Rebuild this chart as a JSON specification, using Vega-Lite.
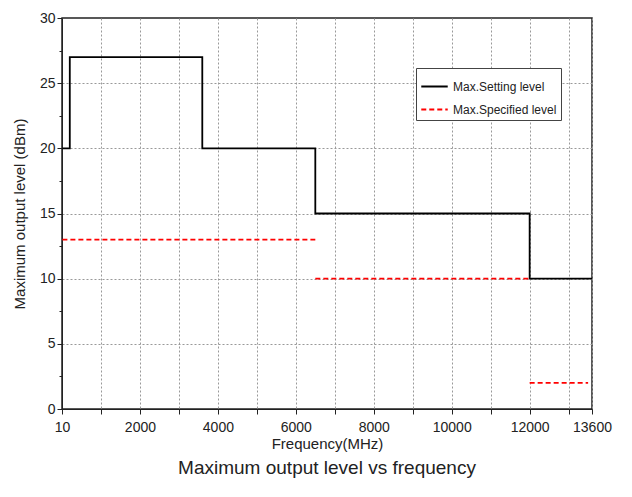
{
"$schema":"https://vega.github.io/schema/vega-lite/v6.json",
"width":530,"height":391,
"autosize":{"type":"none"},
"padding":{"left":62,"top":18,"right":40,"bottom":88},
"background":"white",
"config":{"font":"Liberation Sans","view":{"stroke":"#222","strokeWidth":1.5}},
"title":{"text":"Maximum output level vs frequency","orient":"bottom","fontSize":19,"fontWeight":"normal","color":"#222","offset":8,"font":"Liberation Sans"},
"data":{"values":[
{"f":10,"v":20,"s":"Max.Setting level","g":"a"},
{"f":200,"v":20,"s":"Max.Setting level","g":"a"},
{"f":200,"v":27,"s":"Max.Setting level","g":"a"},
{"f":3600,"v":27,"s":"Max.Setting level","g":"a"},
{"f":3600,"v":20,"s":"Max.Setting level","g":"a"},
{"f":6500,"v":20,"s":"Max.Setting level","g":"a"},
{"f":6500,"v":15,"s":"Max.Setting level","g":"a"},
{"f":12000,"v":15,"s":"Max.Setting level","g":"a"},
{"f":12000,"v":10,"s":"Max.Setting level","g":"a"},
{"f":13600,"v":10,"s":"Max.Setting level","g":"a"},
{"f":10,"v":13,"s":"Max.Specified level","g":"b1"},
{"f":6500,"v":13,"s":"Max.Specified level","g":"b1"},
{"f":6500,"v":10,"s":"Max.Specified level","g":"b2"},
{"f":12000,"v":10,"s":"Max.Specified level","g":"b2"},
{"f":12000,"v":2,"s":"Max.Specified level","g":"b3"},
{"f":13500,"v":2,"s":"Max.Specified level","g":"b3"}
]},
"mark":{"type":"line","strokeWidth":1.8,"clip":true},
"encoding":{
"x":{"field":"f","type":"quantitative","scale":{"domain":[0,13600],"nice":false,"zero":false},
 "axis":{"title":"Frequency(MHz)","titleFontSize":15,"titleFontWeight":"normal","titleColor":"#222","titlePadding":2,
  "values":[0,1000,2000,3000,4000,5000,6000,7000,8000,9000,10000,11000,12000,13000,13600],
  "labelExpr":"datum.value==0?'10':(datum.value%2000==0||datum.value==13600?datum.value+'':'')",
  "labelFontSize":14,"labelColor":"#222","labelPadding":6,"tickColor":"#222","domainColor":"#222","tickSize":5,"labelFlush":false,
  "grid":true,"gridDash":[2,2],"gridColor":"#999"}},
"y":{"field":"v","type":"quantitative","scale":{"domain":[0,30],"nice":false},
 "axis":{"title":"Maximum output level (dBm)","titleFontSize":15,"titleFontWeight":"normal","titleColor":"#222","titlePadding":12,
  "values":[0,2.5,5,7.5,10,12.5,15,17.5,20,22.5,25,27.5,30],
  "labelExpr":"datum.value%5==0?datum.value+'':''",
  "labelFontSize":14,"labelColor":"#222","tickColor":"#222","domainColor":"#222",
  "tickSize":{"condition":{"test":"datum.value%5!=0","value":3},"value":5},
  "grid":true,"gridDash":[2,2],"gridColor":"#999",
  "gridOpacity":{"condition":{"test":"datum.value%5!=0||datum.value==0||datum.value==30","value":0},"value":1}}},
"color":{"field":"s","type":"nominal","scale":{"domain":["Max.Setting level","Max.Specified level"],"range":["black","red"]},
 "legend":{"title":null,"orient":"none","legendX":354,"legendY":50,"strokeColor":"#444","padding":4,"fillColor":"white","labelFontSize":12,"labelColor":"#222","symbolType":"stroke","symbolSize":700,"symbolStrokeWidth":2,"rowPadding":2}},
"strokeDash":{"field":"s","type":"nominal","scale":{"domain":["Max.Setting level","Max.Specified level"],"range":[[1,0],[5,3]]}},
"detail":{"field":"g"}
}
}
